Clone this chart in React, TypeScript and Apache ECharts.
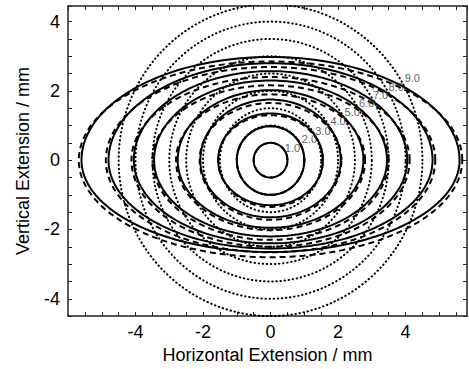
import React, { useEffect, useRef } from "react";
import * as echarts from "echarts";

// contour level labels
const levelLabels = ["1.0", "2.0", "3.0", "4.0", "5.0", "6.0", "7.0", "8.0", "9.0"];
// solid contours: horizontal half width, top and bottom extent (mm)
const solidHalfWidth = [0.5, 1.0, 1.55, 2.08, 2.75, 3.45, 4.05, 4.8, 5.6];
const solidTop = [0.5, 0.98, 1.35, 1.75, 2.02, 2.3, 2.57, 2.8, 2.98];
const solidBottom = [0.5, 1.0, 1.3, 1.65, 1.95, 2.2, 2.4, 2.55, 2.65];
// dashed contours
const dashedHalfWidth = [0.5, 1.0, 1.55, 2.1, 2.8, 3.5, 4.12, 4.88, 5.68];
const dashedTop = [0.5, 0.98, 1.3, 1.65, 1.9, 2.16, 2.4, 2.69, 2.85];
const dashedBottom = [0.5, 1.0, 1.35, 1.72, 2.02, 2.3, 2.5, 2.66, 2.8];
// dotted reference circles radii (mm)
const dottedRadii = [1.0, 1.5, 2.0, 2.5, 3.0, 3.5, 4.0, 4.5];
// label anchor positions
const labelX = [0.65, 1.15, 1.55, 2.0, 2.42, 2.85, 3.26, 3.72, 4.2];
const labelY = [0.35, 0.6, 0.85, 1.12, 1.38, 1.64, 1.87, 2.1, 2.38];

const xMin = -6;
const xMax = 5.82;
const yMin = -4.5;
const yMax = 4.45;

const STEPS = 180;
function closedCurve(halfW: number, top: number, bottom: number) {
  const pts: number[][] = [];
  for (let i = 0; i <= STEPS; i++) {
    const t = (2 * Math.PI * i) / STEPS;
    const s = Math.sin(t);
    pts.push([halfW * Math.cos(t), s >= 0 ? top * s : bottom * s]);
  }
  return pts;
}

const FONT = "Liberation Sans";

export default function App() {
  const ref = useRef<HTMLDivElement>(null);
  useEffect(() => {
    if (!ref.current) return;
    const chart = echarts.init(ref.current, undefined, { renderer: "svg" });
    const series: any[] = [];
    dottedRadii.forEach((r, i) => {
      series.push({
        type: "line",
        name: "dotted" + i,
        data: closedCurve(r, r, r),
        showSymbol: false,
        symbol: "none",
        lineStyle: { color: "#000", width: 2, type: [0.5, 3.6], cap: "round" },
        z: 2,
      });
    });
    dashedHalfWidth.forEach((w, i) => {
      series.push({
        type: "line",
        name: "dashed" + i,
        data: closedCurve(w, dashedTop[i], dashedBottom[i]),
        showSymbol: false,
        symbol: "none",
        lineStyle: { color: "#000", width: 2, type: [6, 4] },
        z: 3,
      });
    });
    solidHalfWidth.forEach((w, i) => {
      series.push({
        type: "line",
        name: "solid" + i,
        data: closedCurve(w, solidTop[i], solidBottom[i]),
        showSymbol: false,
        symbol: "none",
        lineStyle: { color: "#000", width: 2 },
        z: 4,
      });
    });
    series.push({
      type: "scatter",
      name: "labels",
      data: levelLabels.map((l, i) => ({ value: [labelX[i], labelY[i]], name: l })),
      symbolSize: 0,
      label: {
        show: true,
        position: "inside",
        formatter: (p: any) => p.name,
        fontSize: 11,
        color: "#333",
        fontFamily: FONT,
      },
      z: 5,
    });

    const fmt = (v: number) =>
      Math.abs(v % 2) < 1e-9 && Math.abs(v) < 5.9 ? String(Math.round(v)) : "";

    chart.setOption({
      animation: false,
      grid: { left: 68, right: 2, top: 6, bottom: 52 },
      xAxis: [
        {
          type: "value",
          min: xMin,
          max: xMax,
          interval: 0.5,
          position: "bottom",
          axisLine: { show: true, onZero: false, lineStyle: { color: "#222", width: 1.5 } },
          axisTick: { show: true, inside: true, length: 4, lineStyle: { color: "#222" } },
          axisLabel: { formatter: fmt, fontSize: 18, color: "#000", fontFamily: FONT, margin: 7, showMinLabel: false, showMaxLabel: false },
          splitLine: { show: false },
          name: "Horizontal Extension / mm",
          nameLocation: "middle",
          nameGap: 29,
          nameTextStyle: { fontSize: 18, color: "#000", fontFamily: FONT },
        },
        {
          type: "value",
          min: xMin,
          max: xMax,
          interval: 0.5,
          position: "top",
          axisLine: { show: true, onZero: false, lineStyle: { color: "#222", width: 1.5 } },
          axisTick: { show: true, inside: true, length: 4, lineStyle: { color: "#222" } },
          axisLabel: { show: false },
          splitLine: { show: false },
        },
      ],
      yAxis: [
        {
          type: "value",
          min: yMin,
          max: yMax,
          interval: 0.5,
          position: "left",
          axisLine: { show: true, onZero: false, lineStyle: { color: "#222", width: 1.5 } },
          axisTick: { show: true, inside: true, length: 4, lineStyle: { color: "#222" } },
          axisLabel: { formatter: fmt, fontSize: 18, color: "#000", fontFamily: FONT, margin: 8 },
          splitLine: { show: false },
          name: "Vertical Extension / mm",
          nameLocation: "middle",
          nameGap: 36,
          nameTextStyle: { fontSize: 18, color: "#000", fontFamily: FONT },
        },
        {
          type: "value",
          min: yMin,
          max: yMax,
          interval: 0.5,
          position: "right",
          axisLine: { show: true, onZero: false, lineStyle: { color: "#222", width: 1.5 } },
          axisTick: { show: true, inside: true, length: 4, lineStyle: { color: "#222" } },
          axisLabel: { show: false },
          splitLine: { show: false },
        },
      ],
      series,
    });
    return () => chart.dispose();
  }, []);
  return (
    <div
      ref={ref}
      style={{ position: "fixed", left: 0, top: 0, width: 469, height: 369, background: "#fff" }}
    />
  );
}
